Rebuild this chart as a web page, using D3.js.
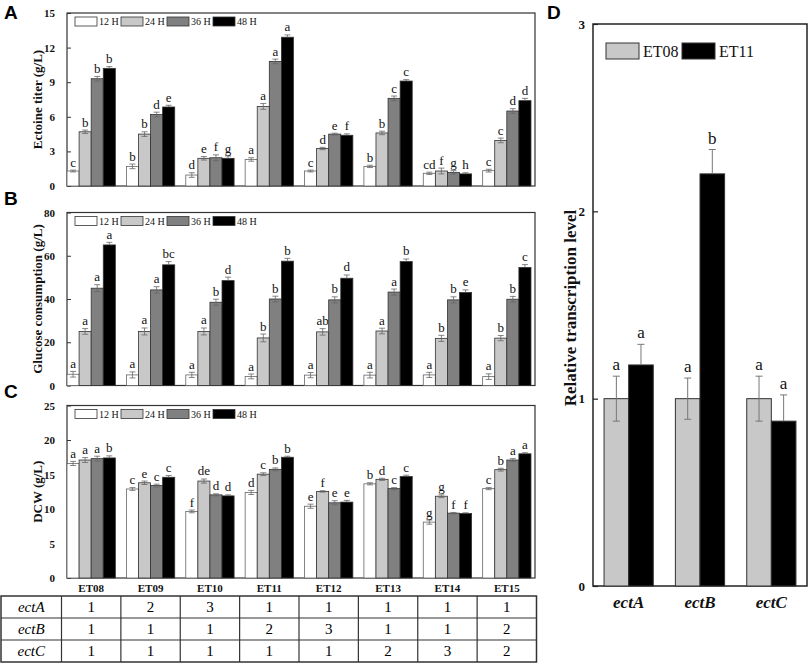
<!DOCTYPE html>
<html>
<head>
<meta charset="utf-8">
<script src="https://cdn.jsdelivr.net/npm/d3@7"></script>
<style>
  body { margin: 0; background: #fff; }
  text { font-family: "Liberation Serif", "Times New Roman", serif; }
</style>
</head>
<body>
<div id="fig"></div>
<script>
// strains and sampling times
var strains = ["ET08", "ET09", "ET10", "ET11", "ET12", "ET13", "ET14", "ET15"];
var hours = ["12 H", "24 H", "36 H", "48 H"];

// A: ectoine titer (g/L), one row per strain, columns = 12/24/36/48 H
var ectoine = [
  [1.3, 4.7, 9.3, 10.2], [1.7, 4.5, 6.2, 6.85], [0.95, 2.4, 2.45, 2.4], [2.3, 6.9, 10.8, 12.9],
  [1.3, 3.25, 4.5, 4.4], [1.7, 4.6, 7.6, 9.1], [1.1, 1.3, 1.18, 1.05], [1.33, 3.95, 6.5, 7.4]
];
var ectoineErr = [
  [0.08, 0.15, 0.2, 0.15], [0.2, 0.2, 0.2, 0.15], [0.2, 0.15, 0.25, 0.2], [0.15, 0.25, 0.2, 0.2],
  [0.08, 0.1, 0.08, 0.12], [0.1, 0.15, 0.2, 0.12], [0.1, 0.25, 0.15, 0.1], [0.12, 0.2, 0.2, 0.2]
];
var ectoineSig = [
  ["c", "b", "b", "b"], ["b", "b", "d", "e"], ["d", "e", "f", "g"], ["a", "a", "a", "a"],
  ["c", "d", "e", "f"], ["b", "b", "c", "c"], ["cd", "f", "g", "h"], ["c", "c", "d", "d"]
];

// B: glucose consumption (g/L)
var glucose = [
  [5.2, 25, 45, 65], [4.9, 25, 44.2, 55.8], [4.9, 25, 38.5, 48.5], [4.2, 22, 40, 57.5],
  [4.8, 24.8, 39.6, 49.6], [4.8, 25.2, 43.2, 57.3], [4.9, 21.8, 39.6, 43], [4.1, 21.9, 39.9, 54.6]
];
var glucoseErr = [
  [1.3, 1.3, 1.6, 1.2], [1.4, 1.6, 1.5, 1.5], [1.2, 1.6, 1.4, 1.6], [1.1, 1.8, 1.3, 1.3],
  [1.2, 1.5, 1.4, 1.5], [1.3, 1.3, 1.4, 1.2], [1.2, 1.4, 1.4, 1.2], [1.3, 1.2, 1.3, 1.3]
];
var glucoseSig = [
  ["a", "a", "a", "a"], ["a", "a", "a", "bc"], ["a", "a", "b", "d"], ["a", "b", "b", "b"],
  ["a", "ab", "b", "d"], ["a", "a", "a", "b"], ["a", "b", "b", "e"], ["a", "b", "b", "c"]
];

// C: dry cell weight (g/L)
var dcw = [
  [16.6, 17.1, 17.3, 17.4], [12.9, 13.8, 13.4, 14.6], [9.65, 14.05, 12.05, 11.9], [12.4, 15.05, 15.75, 17.5],
  [10.4, 12.55, 10.9, 11.0], [13.65, 14.3, 12.95, 14.7], [8.1, 11.85, 9.4, 9.35], [12.95, 15.7, 17.1, 18.0]
];
var dcwErr = [
  [0.3, 0.35, 0.35, 0.3], [0.2, 0.25, 0.2, 0.25], [0.2, 0.3, 0.15, 0.15], [0.3, 0.2, 0.2, 0.15],
  [0.3, 0.1, 0.3, 0.25], [0.15, 0.15, 0.15, 0.2], [0.3, 0.2, 0.1, 0.1], [0.15, 0.2, 0.2, 0.15]
];
var dcwSig = [
  ["a", "a", "a", "b"], ["c", "e", "c", "c"], ["f", "de", "d", "d"], ["d", "c", "b", "b"],
  ["e", "f", "e", "e"], ["b", "d", "c", "c"], ["g", "g", "f", "f"], ["c", "b", "a", "a"]
];

// gene copy numbers
var genes = ["ectA", "ectB", "ectC"];
var copyEctA = [1, 2, 3, 1, 1, 1, 1, 1];
var copyEctB = [1, 1, 1, 2, 3, 1, 1, 2];
var copyEctC = [1, 1, 1, 1, 1, 2, 3, 2];

// D: relative transcription
var relStrains = ["ET08", "ET11"];
var relET08 = [1, 1, 1];
var relET11 = [1.18, 2.2, 0.88];
var relET08Err = [0.12, 0.11, 0.12];
var relET11Err = [0.11, 0.13, 0.14];
var relSigET08 = ["a", "a", "a"];
var relSigET11 = ["a", "b", "a"];

var W = 809, H = 663;
var svg = d3.select("#fig").append("svg").attr("width", W).attr("height", H);

var hourColors = ["#ffffff", "#c8c8c8", "#808080", "#000000"];
var left = 67, right = 535;

var x = d3.scaleBand().domain(strains).range([61.5, 536.5]).paddingInner(0.186).paddingOuter(0.093);
var xh = d3.scaleBand().domain(hours).range([0, x.bandwidth()]);

var panels = [
  { letter: "A", top: 13, bottom: 186, max: 15, ticks: [0, 3, 6, 9, 12, 15], label: "Ectoine titer (g/L)",
    vals: ectoine, err: ectoineErr, sig: ectoineSig },
  { letter: "B", top: 212.5, bottom: 385.5, max: 80, ticks: [0, 20, 40, 60, 80], label: "Glucose consumption (g/L)",
    vals: glucose, err: glucoseErr, sig: glucoseSig },
  { letter: "C", top: 405.5, bottom: 578, max: 25, ticks: [0, 5, 10, 15, 20, 25], label: "DCW (g/L)",
    vals: dcw, err: dcwErr, sig: dcwSig }
];

panels.forEach(function(p) {
  var y = d3.scaleLinear().domain([0, p.max]).range([p.bottom, p.top]);
  var g = svg.append("g");

  g.append("rect")
    .attr("x", left).attr("y", p.top)
    .attr("width", right - left).attr("height", p.bottom - p.top)
    .attr("fill", "none").attr("stroke", "#333").attr("stroke-width", 1.2);

  var yAxis = g.append("g")
    .attr("transform", "translate(" + left + ",0)")
    .call(d3.axisLeft(y).tickValues(p.ticks).tickSize(-4).tickPadding(12));
  yAxis.select(".domain").remove();
  yAxis.selectAll("line").attr("stroke", "#333");
  yAxis.selectAll("text")
    .attr("font-family", "Liberation Serif").attr("font-weight", "bold")
    .attr("font-size", 11).attr("fill", "#111");

  g.append("text")
    .attr("transform", "translate(42," + ((p.top + p.bottom) / 2) + ") rotate(-90)")
    .attr("text-anchor", "middle")
    .attr("font-weight", "bold").attr("font-size", 13).attr("fill", "#111")
    .text(p.label);

  g.append("text")
    .attr("x", 4).attr("y", p.letter == "A" ? 19 : p.top - 8)
    .style("font-family", "'Liberation Sans', Arial, sans-serif")
    .attr("font-weight", "bold").attr("font-size", 19)
    .text(p.letter);

  strains.forEach(function(s, i) {
    var gg = g.append("g").attr("transform", "translate(" + x(s) + ",0)");
    hours.forEach(function(h, j) {
      var v = p.vals[i][j], e = p.err[i][j];
      var bx = xh(h), bw = xh.bandwidth(), cx = bx + bw / 2;
      gg.append("rect")
        .attr("x", bx).attr("y", y(v))
        .attr("width", bw).attr("height", y(0) - y(v))
        .attr("fill", hourColors[j])
        .attr("stroke", j == 0 ? "#666" : "#333").attr("stroke-width", 0.8);
      var lo = j == 3 ? v : v - e;
      gg.append("line")
        .attr("x1", cx).attr("x2", cx).attr("y1", y(v + e)).attr("y2", y(lo))
        .attr("stroke", "#666").attr("stroke-width", 0.8);
      gg.append("line")
        .attr("x1", cx - 3).attr("x2", cx + 3).attr("y1", y(v + e)).attr("y2", y(v + e))
        .attr("stroke", "#666").attr("stroke-width", 0.8);
      if (j != 3) {
        gg.append("line")
          .attr("x1", cx - 3).attr("x2", cx + 3).attr("y1", y(v - e)).attr("y2", y(v - e))
          .attr("stroke", "#666").attr("stroke-width", 0.8);
      }
      gg.append("text")
        .attr("x", cx).attr("y", y(v + e) - 3.5)
        .attr("text-anchor", "middle").attr("font-size", 13).attr("fill", "#111")
        .text(p.sig[i][j]);
    });
  });

  // legend
  var lg = g.append("g").attr("transform", "translate(75," + (p.top + 4) + ")");
  hours.forEach(function(h, j) {
    lg.append("rect")
      .attr("x", j * 46).attr("y", 0).attr("width", 22).attr("height", 9)
      .attr("fill", hourColors[j]).attr("stroke", "#333").attr("stroke-width", 0.8);
    lg.append("text")
      .attr("x", j * 46 + 24).attr("y", 8)
      .attr("font-size", 10).attr("fill", "#111")
      .text(h);
  });

  if (p.letter == "C") {
    var xAxis = g.append("g")
      .attr("transform", "translate(0," + p.bottom + ")")
      .call(d3.axisBottom(x).tickSize(0).tickPadding(6));
    xAxis.select(".domain").remove();
    xAxis.selectAll("text")
      .attr("font-family", "Liberation Serif").attr("font-weight", "bold")
      .attr("font-size", 11).attr("fill", "#111");
  }
});

// copy number table
var tableTop = 596, rowH = 22;
var copies = [copyEctA, copyEctB, copyEctC];
var tg = svg.append("g");
var colEdges = [1, x(strains[0]) - x.step() * x.paddingInner() / 2];
strains.forEach(function(s) { colEdges.push(x(s) + x.bandwidth() + x.step() * x.paddingInner() / 2); });
tg.append("rect")
  .attr("x", 1).attr("y", tableTop)
  .attr("width", colEdges[colEdges.length - 1] - 1).attr("height", rowH * 3)
  .attr("fill", "none").attr("stroke", "#333").attr("stroke-width", 1.5);
colEdges.slice(1, -1).forEach(function(cx) {
  tg.append("line").attr("x1", cx).attr("x2", cx)
    .attr("y1", tableTop).attr("y2", tableTop + rowH * 3)
    .attr("stroke", "#333").attr("stroke-width", 1.2);
});
[1, 2].forEach(function(r) {
  tg.append("line").attr("x1", 1).attr("x2", colEdges[colEdges.length - 1])
    .attr("y1", tableTop + r * rowH).attr("y2", tableTop + r * rowH)
    .attr("stroke", "#333").attr("stroke-width", 1.2);
});
genes.forEach(function(gn, r) {
  var ty = tableTop + r * rowH + 16;
  tg.append("text")
    .attr("x", (colEdges[0] + colEdges[1]) / 2).attr("y", ty)
    .attr("text-anchor", "middle").attr("font-style", "italic").attr("font-size", 15)
    .text(gn);
  strains.forEach(function(s, i) {
    tg.append("text")
      .attr("x", x(s) + x.bandwidth() / 2).attr("y", ty)
      .attr("text-anchor", "middle").attr("font-size", 15)
      .text(copies[r][i]);
  });
});

// panel D
var dL = 593, dR = 807, dT = 24, dB = 586;
var xd = d3.scaleBand().domain(genes).range([dL, dR]).paddingInner(0.31).paddingOuter(0.155);
var xs = d3.scaleBand().domain(relStrains).range([0, xd.bandwidth()]);
var yd = d3.scaleLinear().domain([0, 3]).range([dB, dT]);
var relColors = ["#c8c8c8", "#000000"];
var relVals = [relET08, relET11], relErrs = [relET08Err, relET11Err], relSig = [relSigET08, relSigET11];
var dg = svg.append("g");

dg.append("rect")
  .attr("x", dL).attr("y", dT).attr("width", dR - dL).attr("height", dB - dT)
  .attr("fill", "none").attr("stroke", "#222").attr("stroke-width", 1.5);

var dAxis = dg.append("g")
  .attr("transform", "translate(" + dL + ",0)")
  .call(d3.axisLeft(yd).tickValues([0, 1, 2, 3]).tickFormat(d3.format("d")).tickSize(-5).tickPadding(8));
dAxis.select(".domain").remove();
dAxis.selectAll("line").attr("stroke", "#222").attr("stroke-width", 1.2);
dAxis.selectAll("text")
  .attr("font-family", "Liberation Serif").attr("font-weight", "bold")
  .attr("font-size", 13).attr("fill", "#111");

dg.append("text")
  .attr("transform", "translate(576," + ((dT + dB) / 2 + 3) + ") rotate(-90)")
  .attr("text-anchor", "middle").attr("font-weight", "bold").attr("font-size", 17).attr("fill", "#111")
  .text("Relative transcription level");

dg.append("text")
  .attr("x", 547).attr("y", 19)
  .style("font-family", "'Liberation Sans', Arial, sans-serif")
  .attr("font-weight", "bold").attr("font-size", 19)
  .text("D");

genes.forEach(function(gn, i) {
  relStrains.forEach(function(st, k) {
    var v = relVals[k][i], e = relErrs[k][i];
    var bx = xd(gn) + xs(st), bw = xs.bandwidth(), cx = bx + bw / 2;
    dg.append("rect")
      .attr("x", bx).attr("y", yd(v)).attr("width", bw).attr("height", yd(0) - yd(v))
      .attr("fill", relColors[k]).attr("stroke", "#333").attr("stroke-width", 1);
    var lo = k == 1 ? v : v - e;
    dg.append("line").attr("x1", cx).attr("x2", cx).attr("y1", yd(v + e)).attr("y2", yd(lo))
      .attr("stroke", "#777").attr("stroke-width", 1);
    dg.append("line").attr("x1", cx - 3.5).attr("x2", cx + 3.5).attr("y1", yd(v + e)).attr("y2", yd(v + e))
      .attr("stroke", "#777").attr("stroke-width", 1);
    if (k == 0) {
      dg.append("line").attr("x1", cx - 3.5).attr("x2", cx + 3.5).attr("y1", yd(v - e)).attr("y2", yd(v - e))
        .attr("stroke", "#777").attr("stroke-width", 1);
    }
    dg.append("text")
      .attr("x", cx).attr("y", yd(v + e) - 6)
      .attr("text-anchor", "middle").attr("font-size", 17).attr("fill", "#111")
      .text(relSig[k][i]);
  });
  dg.append("text")
    .attr("x", xd(gn) + xd.bandwidth() / 2).attr("y", 608)
    .attr("text-anchor", "middle").attr("font-weight", "bold").attr("font-style", "italic")
    .attr("font-size", 17).attr("fill", "#111")
    .text(gn);
});

// D legend
var dl = dg.append("g").attr("transform", "translate(606,43)");
relStrains.forEach(function(st, k) {
  dl.append("rect")
    .attr("x", k * 76).attr("y", 0).attr("width", 33).attr("height", 16)
    .attr("fill", relColors[k]).attr("stroke", "#333").attr("stroke-width", 1);
  dl.append("text")
    .attr("x", k * 76 + 37).attr("y", 14)
    .attr("font-size", 16).attr("fill", "#111")
    .text(st);
});
</script>
</body>
</html>
